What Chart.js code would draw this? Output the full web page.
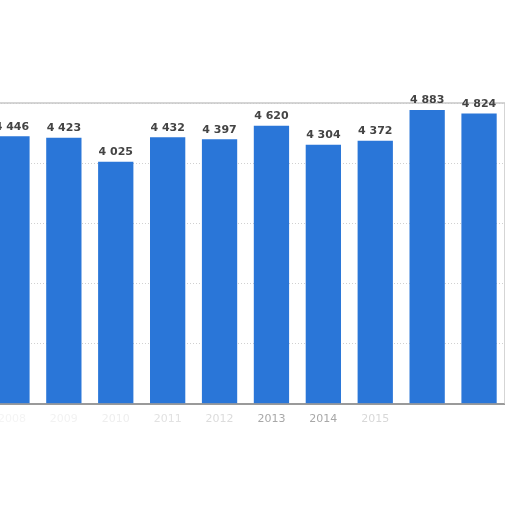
<!DOCTYPE html>
<html>
<head>
<meta charset="utf-8">
<script src="https://cdn.jsdelivr.net/npm/chart.js@4"></script>
<style>
  html, body { margin: 0; padding: 0; background: #fff; overflow: hidden; }
  #wrap { position: absolute; left: -14px; top: 0; width: 519px; height: 427px; }
</style>
</head>
<body>
<div id="wrap"><canvas id="barChart"></canvas></div>
<script>
const years = ['2008', '2009', '2010', '2011', '2012', '2013', '2014', '2015', '2016', '2017'];
const values = [4446, 4423, 4025, 4432, 4397, 4620, 4304, 4372, 4883, 4824];
const yearColors = ['#f4f4f4', '#f2f2f2', '#eeeeee', '#e2e2e2', '#dcdcdc', '#a8a8a8', '#a8a8a8', '#d8d8d8', '#ffffff', '#ffffff'];

function fmt(v) {
  return String(v).replace(/\B(?=(\d{3})+(?!\d))/g, ' ');
}

// value labels above each bar
const barLabels = {
  id: 'barLabels',
  afterDatasetsDraw(chart) {
    const ctx = chart.ctx;
    const meta = chart.getDatasetMeta(0);
    ctx.save();
    ctx.font = 'bold 11px "DejaVu Sans", sans-serif';
    ctx.fillStyle = '#444';
    ctx.textAlign = 'center';
    ctx.textBaseline = 'bottom';
    meta.data.forEach((bar, i) => {
      ctx.fillText(fmt(values[i]), bar.x, bar.y - 4);
    });
    ctx.restore();
  }
};

// grey frame round the plot area
const frame = {
  id: 'frame',
  beforeDatasetsDraw(chart) {
    const { ctx, chartArea } = chart;
    ctx.save();
    ctx.strokeStyle = '#c8c8c8';
    ctx.lineWidth = 1.5;
    ctx.beginPath();
    ctx.moveTo(chartArea.left, chartArea.top);
    ctx.lineTo(chartArea.right, chartArea.top);
    ctx.lineTo(chartArea.right, chartArea.bottom);
    ctx.stroke();
    ctx.restore();
  }
};

const ctx = document.getElementById('barChart').getContext('2d');
new Chart(ctx, {
  type: 'bar',
  data: {
    labels: years,
    datasets: [{
      data: values,
      backgroundColor: '#2a76d8',
      barPercentage: 0.68,
      categoryPercentage: 1,
    }],
  },
  options: {
    responsive: true,
    maintainAspectRatio: false,
    animation: false,
    layout: { padding: { top: 103, left: 0, right: 0, bottom: 0 } },
    plugins: {
      legend: { display: false },
      tooltip: { enabled: false },
    },
    scales: {
      x: {
        grid: { display: false },
        border: { color: '#9a9a9a', width: 2 },
        ticks: {
          color: (c) => yearColors[c.index],
          font: { size: 11, family: '"DejaVu Sans", sans-serif' },
          padding: 1,
        },
      },
      y: {
        min: 0,
        max: 5000,
        ticks: { display: false, stepSize: 1000 },
        grid: { color: '#d0d0d0', drawTicks: false },
        border: { display: false, dash: [1, 2] },
      },
    },
  },
  plugins: [frame, barLabels],
});
</script>
</body>
</html>
